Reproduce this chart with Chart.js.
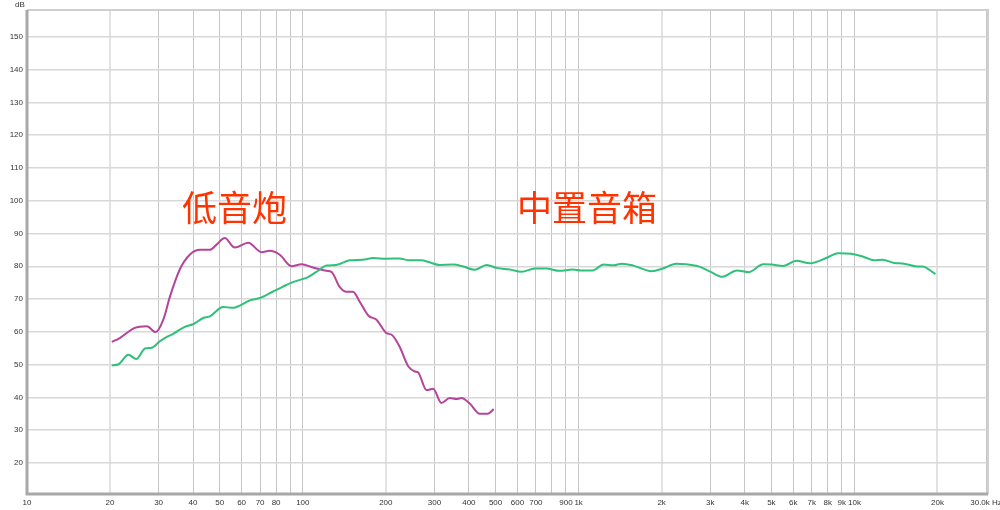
<!DOCTYPE html>
<html>
<head>
<meta charset="utf-8">
<script src="https://cdn.jsdelivr.net/npm/chart.js@4.4.1/dist/chart.umd.min.js"></script>
<style>
  html, body { margin: 0; padding: 0; background: #fff; }
  #wrap { width: 1000px; height: 510px; position: relative; }
</style>
</head>
<body>
<div id="wrap"><canvas id="fr"></canvas></div>
<script>
// subwoofer (低音炮) response
const subFreq = [20.3, 21.7, 24.6, 27.2, 29.3, 31.2, 33, 35.8, 38.9, 42.4,
    46, 48.7, 52.1, 56.7, 63.4, 70.8, 75.9, 82.5, 91, 98.9,
    109, 122, 127, 136, 144, 152, 161, 173, 185, 201,
    210, 224, 241, 255, 262, 281, 297, 318, 341, 361,
    376, 403, 438, 469, 492];
const subDb = [56.9, 58.1, 61.2, 61.7, 59.9, 63.7, 70.8, 79, 83.5, 85,
    85, 86.6, 88.6, 85.7, 87.2, 84.3, 84.7, 83.5, 80, 80.6,
    79.6, 78.6, 78.3, 73.7, 72.2, 72.2, 69.1, 64.9, 63.7, 59.6,
    59.1, 55.6, 49.5, 47.9, 47.6, 42.2, 42.6, 38.3, 39.8, 39.5,
    39.8, 38.1, 35, 35, 36.4];

// center speaker (中置音箱) response
const centerFreq = [20.3, 21.4, 23.3, 24.9, 26.8, 28.3, 30.3, 32.0, 33.9, 37.3,
    40.0, 43.5, 46, 51.4, 55.9, 59.1, 64.3, 69.9, 78.0, 84.8,
    91, 98.9, 104, 112, 122, 132, 148, 165, 180, 201,
    224, 243, 268, 288, 313, 351, 382, 420, 464, 504,
    563, 621, 694, 763, 853, 952, 1020, 1123, 1233, 1339,
    1434, 1580, 1835, 2019, 2258, 2452, 2739, 3013, 3313, 3752,
    4130, 4675, 5011, 5517, 6162, 6884, 7902, 8705, 9730, 10713,
    11800, 12640, 13930, 15130, 16900, 17620, 19670];
const centerDb = [49.8, 50, 53, 51.7, 54.9, 55.1, 57.1, 58.4, 59.4, 61.5,
    62.3, 64.2, 64.7, 67.6, 67.3, 68, 69.6, 70.3, 72.3, 73.8,
    75, 76, 76.6, 78.3, 80.2, 80.4, 81.8, 82, 82.5, 82.3,
    82.4, 81.8, 81.8, 81.2, 80.4, 80.5, 79.9, 78.9, 80.4, 79.5,
    79, 78.3, 79.3, 79.3, 78.6, 79, 78.7, 78.7, 80.5, 80.3,
    80.8, 80.2, 78.5, 79.3, 80.8, 80.6, 79.9, 78.3, 76.8, 78.7,
    78.2, 80.6, 80.5, 80.1, 81.7, 80.9, 82.5, 84.0, 83.8, 83,
    81.8, 82, 81, 80.8, 79.9, 79.9, 77.6];

// axis ticks
const freqTicks = [10, 20, 30, 40, 50, 60, 70, 80, 90, 100,
    200, 300, 400, 500, 600, 700, 800, 900, 1000,
    2000, 3000, 4000, 5000, 6000, 7000, 8000, 9000, 10000, 20000, 30000];
const freqLabels = ["10", "20", "30", "40", "50", "60", "70", "80", "", "100",
    "200", "300", "400", "500", "600", "700", "", "900", "1k",
    "2k", "3k", "4k", "5k", "6k", "7k", "8k", "9k", "10k", "20k", "30.0k Hz"];
const dbTicks = [20, 30, 40, 50, 60, 70, 80, 90, 100, 110, 120, 130, 140, 150];

// text labels placed in data coordinates
const seriesNames = ["低音炮", "中置音箱"];
const nameFreq = [36.5, 598];
const nameDb = [98, 98];

const lightLines = [20, 200, 2000, 20000];
const tickFont = { size: 8, family: "'Liberation Sans', Arial, sans-serif" };

const toPoints = (xs, ys) => xs.map((f, i) => ({ x: f, y: ys[i] }));

const framePlugin = {
    id: "frame",
    afterDraw(chart) {
        const { ctx, chartArea: a, scales } = chart;
        ctx.save();
        // light top/right edge, darker left/bottom edge
        ctx.lineWidth = 2;
        ctx.strokeStyle = "#cfcfcf";
        ctx.beginPath();
        ctx.moveTo(a.left, a.top);
        ctx.lineTo(a.right, a.top);
        ctx.lineTo(a.right, a.bottom);
        ctx.stroke();
        ctx.lineWidth = 3;
        ctx.strokeStyle = "#a8a8a8";
        ctx.beginPath();
        ctx.moveTo(a.left, a.top);
        ctx.lineTo(a.left, a.bottom);
        ctx.lineTo(a.right, a.bottom);
        ctx.stroke();

        ctx.fillStyle = "#333";
        ctx.font = "8px 'Liberation Sans', Arial, sans-serif";
        ctx.textBaseline = "middle";
        ctx.textAlign = "left";
        ctx.fillText("dB", 15, 5);

        ctx.fillStyle = "#ff3300";
        ctx.font = "35px 'Noto Sans CJK SC', sans-serif";
        seriesNames.forEach((name, i) => {
            const x = scales.x.getPixelForValue(nameFreq[i]);
            const y = scales.y.getPixelForValue(nameDb[i]);
            ctx.fillText(name, x, y);
        });
        ctx.restore();
    }
};

new Chart(document.getElementById("fr"), {
    type: "line",
    data: {
        datasets: [
            { label: "中置音箱", data: toPoints(centerFreq, centerDb), borderColor: "#2fc07a", borderWidth: 2, pointRadius: 0, cubicInterpolationMode: "monotone" },
            { label: "低音炮", data: toPoints(subFreq, subDb), borderColor: "#b5449a", borderWidth: 2, pointRadius: 0, cubicInterpolationMode: "monotone" }
        ]
    },
    options: {
        responsive: true,
        maintainAspectRatio: false,
        animation: false,
        layout: { padding: { top: 10, right: 12, left: 0, bottom: 0 } },
        plugins: { legend: { display: false }, tooltip: { enabled: false } },
        scales: {
            x: {
                type: "logarithmic",
                min: 10,
                max: 30500,
                afterBuildTicks: scale => { scale.ticks = freqTicks.map(v => ({ value: v })); },
                afterFit: scale => { scale.height = 16; scale.paddingLeft = 0; scale.paddingRight = 0; },
                border: { display: false },
                grid: {
                    drawTicks: false,
                    color: c => lightLines.includes(c.tick && c.tick.value) ? "#e2e2e2" : "#c6c6c6",
                    lineWidth: c => lightLines.includes(c.tick && c.tick.value) ? 2 : 1
                },
                ticks: {
                    autoSkip: false,
                    maxRotation: 0,
                    padding: 4,
                    color: "#333",
                    font: tickFont,
                    callback: value => {
                        const i = freqTicks.indexOf(value);
                        return i >= 0 ? freqLabels[i] : "";
                    }
                }
            },
            y: {
                min: 10.5,
                max: 158.2,
                afterBuildTicks: scale => { scale.ticks = dbTicks.map(v => ({ value: v })); },
                afterFit: scale => { scale.width = 27; },
                border: { display: false },
                grid: { drawTicks: false, color: "#d8d8d8", lineWidth: 1.5 },
                ticks: {
                    padding: 4,
                    color: "#333",
                    font: tickFont
                }
            }
        }
    },
    plugins: [framePlugin]
});
</script>
</body>
</html>
